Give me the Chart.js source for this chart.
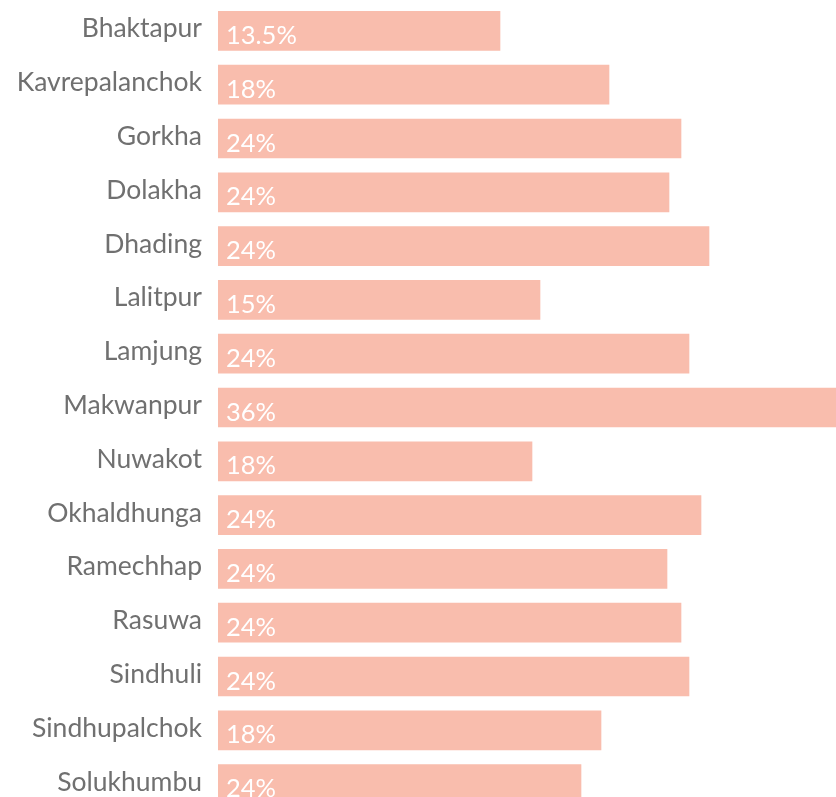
<!DOCTYPE html>
<html>
<head>
<meta charset="utf-8">
<script src="https://cdn.jsdelivr.net/npm/chart.js@4/dist/chart.umd.min.js"></script>
<style>
  html, body { margin: 0; padding: 0; background: #fff; overflow: hidden; }
  #wrap { width: 836px; height: 812px; }
</style>
</head>
<body>
<div id="wrap"><canvas id="c" width="836" height="812"></canvas></div>
<script>
const districts = ["Bhaktapur", "Kavrepalanchok", "Gorkha", "Dolakha", "Dhading", "Lalitpur", "Lamjung", "Makwanpur", "Nuwakot", "Okhaldhunga", "Ramechhap", "Rasuwa", "Sindhuli", "Sindhupalchok", "Solukhumbu"];
const barLengths = [282, 391, 463, 451, 491, 322, 471, 618, 314, 483, 449, 463, 471, 383, 363];
const valueLabels = ["13.5%", "18%", "24%", "24%", "24%", "15%", "24%", "36%", "18%", "24%", "24%", "24%", "24%", "18%", "24%"];

const FONT = "Lato, 'Noto Sans', sans-serif";

const insideLabels = {
  id: 'insideLabels',
  afterDatasetsDraw(chart) {
    const ctx = chart.ctx;
    const meta = chart.getDatasetMeta(0);
    ctx.save();
    ctx.fillStyle = '#ffffff';
    ctx.font = "400 25.5px " + FONT;
    ctx.textAlign = 'left';
    ctx.textBaseline = 'alphabetic';
    meta.data.forEach((bar, i) => {
      const p = bar.getProps(['x', 'y', 'base', 'height'], true);
      ctx.fillText(valueLabels[i], p.base + 8, p.y + p.height / 2 - 6.5);
    });
    ctx.restore();
  }
};

new Chart(document.getElementById('c'), {
  type: 'bar',
  data: {
    labels: districts,
    datasets: [{
      data: barLengths,
      backgroundColor: '#f9bdad',
      borderWidth: 0,
      barThickness: 39
    }]
  },
  options: {
    indexAxis: 'y',
    responsive: false,
    animation: false,
    layout: { padding: { top: 4, bottom: 1, left: 0, right: 0 } },
    plugins: { legend: { display: false }, tooltip: { enabled: false } },
    scales: {
      x: { display: false, min: 0, max: 618 },
      y: {
        afterFit(scale) {
          scale.width = 218;
          scale.paddingTop = 0;
          scale.paddingBottom = 0;
        },
        grid: { display: false, drawTicks: false },
        border: { display: false },
        ticks: {
          color: '#707070',
          padding: 16,
          labelOffset: -2,
          font: { family: FONT, size: 26.5, weight: 400 }
        }
      }
    }
  },
  plugins: [insideLabels]
});
</script>
</body>
</html>
